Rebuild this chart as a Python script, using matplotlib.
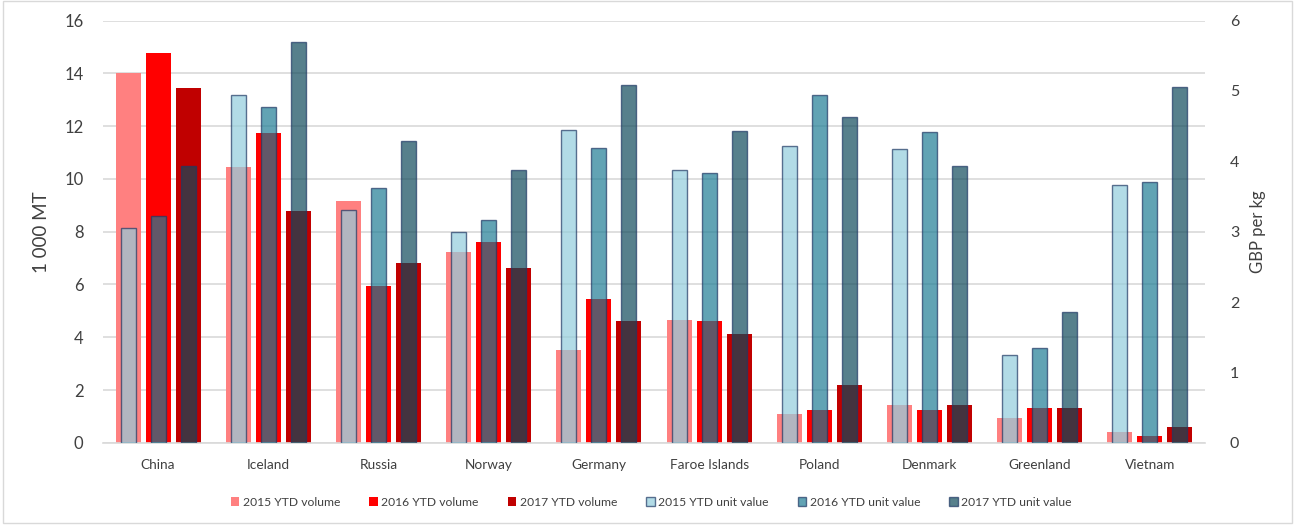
import matplotlib.pyplot as plt
import matplotlib.patches as mpatches
import numpy as np

plt.rcParams['font.family'] = ['Lato', 'DejaVu Sans']

countries = ['China', 'Iceland', 'Russia', 'Norway', 'Germany', 'Faroe Islands',
             'Poland', 'Denmark', 'Greenland', 'Vietnam']

# volume, 1 000 MT
vol_2015 = [14.02, 10.44, 9.16, 7.23, 3.50, 4.65, 1.09, 1.43, 0.94, 0.40]
vol_2016 = [14.79, 11.73, 5.94, 7.61, 5.45, 4.60, 1.24, 1.26, 1.30, 0.25]
vol_2017 = [13.45, 8.80, 6.82, 6.62, 4.61, 4.13, 2.19, 1.42, 1.31, 0.61]

# unit value, GBP per kg
uv_2015 = [3.05, 4.94, 3.31, 3.00, 4.45, 3.87, 4.22, 4.17, 1.25, 3.67]
uv_2016 = [3.22, 4.77, 3.62, 3.16, 4.19, 3.83, 4.95, 4.42, 1.34, 3.70]
uv_2017 = [3.94, 5.69, 4.29, 3.87, 5.09, 4.43, 4.63, 3.94, 1.86, 5.06]

vol_labels = ['2015 YTD volume', '2016 YTD volume', '2017 YTD volume']
uv_labels = ['2015 YTD unit value', '2016 YTD unit value', '2017 YTD unit value']
vol_colors = ['#FF8080', '#FF0000', '#C00000']
uv_colors = ['#92CDDC', '#1F7D95', '#104A5B']
edge = '#1F3864'
grid_col = '#D9D9D9'

x = np.arange(len(countries))
offsets = [-0.272, 0.0, 0.272]

fig = plt.figure(figsize=(12.95, 5.29), dpi=100)
ax = fig.add_axes([0.0795, 0.163, 0.851, 0.798])
ax2 = ax.twinx()

for vals, off, col, lab in zip([vol_2015, vol_2016, vol_2017], offsets, vol_colors, vol_labels):
    ax.bar(x + off, vals, width=0.227, color=col, label=lab, zorder=2)

for vals, off, col, lab in zip([uv_2015, uv_2016, uv_2017], offsets, uv_colors, uv_labels):
    ax2.bar(x + off, vals, width=0.136, color=col, alpha=0.7, edgecolor=edge,
            linewidth=1.0, label=lab, zorder=3)

ax.set_xlim(-0.5, len(countries) - 0.5)
ax.set_ylim(0, 16)
ax.set_yticks(np.arange(0, 17, 2))
ax2.set_ylim(0, 6)
ax2.set_yticks(np.arange(0, 7, 1))

ax.yaxis.grid(True, color=grid_col, linewidth=1.2, zorder=0)
ax.set_axisbelow(True)
for a in (ax, ax2):
    for s in a.spines.values():
        s.set_visible(False)
ax.spines['bottom'].set_visible(True)
ax.spines['bottom'].set_color(grid_col)
ax.spines['bottom'].set_linewidth(1.2)

ax.set_xticks(x)
ax.set_xticklabels(countries, fontsize=9.8, color='#404040')
ax.tick_params(axis='x', length=0, pad=12)
ax.tick_params(axis='y', length=0, labelsize=12, labelcolor='#404040', pad=14)
ax2.tick_params(axis='y', length=0, labelsize=11.5, labelcolor='#404040', pad=18)

ax.set_ylabel('1 000 MT', fontsize=13.5, color='#404040', labelpad=10)
ax2.set_ylabel('GBP per kg', fontsize=12, color='#404040', labelpad=8)

h1, l1 = ax.get_legend_handles_labels()
h2, l2 = ax2.get_legend_handles_labels()
leg = fig.legend(h1 + h2, l1 + l2, loc='center', bbox_to_anchor=(0.503, 0.051), ncol=6,
                 frameon=False, fontsize=8.7, handlelength=0.7, handleheight=0.7,
                 handletextpad=0.3, columnspacing=2.4)
for t in leg.get_texts():
    t.set_color('#404040')

fig.patches.append(mpatches.Rectangle((0.002, 0.012), 0.996, 0.986, transform=fig.transFigure,
                                      fill=False, edgecolor=grid_col, linewidth=1))

fig.savefig('out.png', dpi=100)
